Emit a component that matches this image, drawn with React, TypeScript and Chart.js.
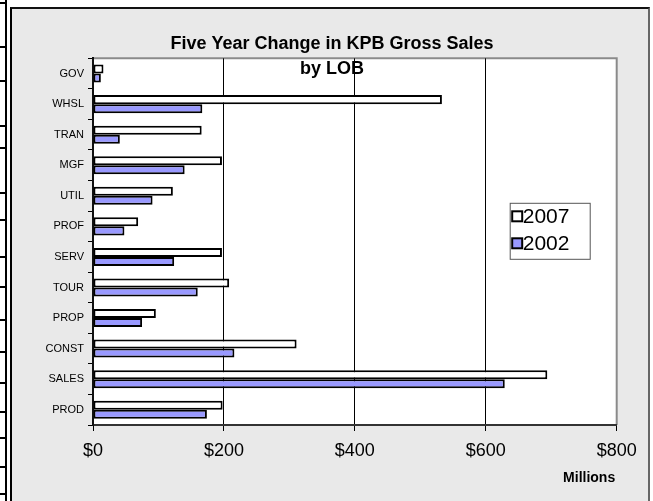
import React, { useEffect, useRef } from "react";
import { Chart, registerables } from "chart.js";

Chart.register(...registerables);

// ---- data ----
const categories = ["GOV", "WHSL", "TRAN", "MGF", "UTIL", "PROF", "SERV", "TOUR", "PROP", "CONST", "SALES", "PROD"];
const sales2007 = [16, 533, 166, 197, 122, 69, 197, 208, 96, 311, 694, 198];
const sales2002 = [12, 167, 41, 140, 91, 48, 124, 160, 75, 216, 629, 174];
const seriesLabels = ["2007", "2002"];
const seriesColors = ["#ffffff", "#9999ff"];
const xMin = 0;
const xMax = 800;
const xStep = 200;
const titleLines = ["Five Year Change in KPB Gross Sales", "by LOB"];
const xAxisTitle = "Millions";

// decorative table rules at the left edge of the screenshot
const tableRuleYs = [2, 46, 80, 125, 147, 192, 219, 256, 286, 319, 351, 382, 411, 437, 466, 493];

const FONT = '"Liberation Sans", Arial, Helvetica, sans-serif';

const decorPlugin = {
  id: "decor",
  beforeDraw(chart: any) {
    const { ctx, chartArea: a } = chart;
    ctx.save();
    ctx.fillStyle = "#ffffff";
    ctx.fillRect(a.left, a.top, a.right - a.left, a.bottom - a.top);
    ctx.strokeStyle = "#8a8a8a";
    ctx.lineWidth = 2;
    ctx.beginPath();
    ctx.moveTo(a.left, a.top);
    ctx.lineTo(a.right, a.top);
    ctx.lineTo(a.right, a.bottom);
    ctx.stroke();
    ctx.restore();
  },
  afterDraw(chart: any) {
    const { ctx, chartArea: a } = chart;
    ctx.save();
    // title
    ctx.fillStyle = "#000";
    ctx.textAlign = "center";
    ctx.textBaseline = "alphabetic";
    ctx.font = `bold 18px ${FONT}`;
    const cx = chart.width / 2 + 2;
    ctx.fillText(titleLines[0], cx, a.top - 9);
    ctx.fillText(titleLines[1], cx, a.top + 15.7);

    // x-axis title
    ctx.font = `bold 14px ${FONT}`;
    ctx.textAlign = "right";
    ctx.fillText(xAxisTitle, a.right - 1.5, a.bottom + 57.3);

    // legend
    const bx = a.right - 107;
    const by = a.top + 144.5;
    const bw = 81;
    const bh = 57;
    ctx.fillStyle = "#fff";
    ctx.fillRect(bx, by, bw, bh);
    ctx.strokeStyle = "#555";
    ctx.lineWidth = 1;
    ctx.strokeRect(bx + 0.5, by + 0.5, bw - 1, bh - 1);
    const ds = chart.data.datasets;
    ctx.font = `21px ${FONT}`;
    ctx.textAlign = "left";
    ctx.textBaseline = "middle";
    ds.forEach((d: any, i: number) => {
      const cy = by + 13.5 + i * 27;
      ctx.fillStyle = d.backgroundColor;
      ctx.fillRect(bx + 2.5, cy - 5, 10, 10);
      ctx.strokeStyle = "#000";
      ctx.lineWidth = 2;
      ctx.strokeRect(bx + 2.5, cy - 5, 10, 10);
      ctx.fillStyle = "#000";
      ctx.fillText(d.label, bx + 13, cy + 1);
    });
    ctx.restore();
  },
};

export default function App() {
  const ref = useRef<HTMLCanvasElement>(null);

  useEffect(() => {
    const canvas = ref.current;
    if (!canvas) return;
    const chart = new Chart(canvas, {
      type: "bar",
      data: {
        labels: categories,
        datasets: [
          {
            label: seriesLabels[0],
            data: sales2007,
            backgroundColor: seriesColors[0],
            borderColor: "#000",
            borderWidth: 2,
            borderSkipped: false,
            barPercentage: 1,
            categoryPercentage: 0.59,
          },
          {
            label: seriesLabels[1],
            data: sales2002,
            backgroundColor: seriesColors[1],
            borderColor: "#000",
            borderWidth: 2,
            borderSkipped: false,
            barPercentage: 1,
            categoryPercentage: 0.59,
          },
        ],
      },
      options: {
        indexAxis: "y",
        responsive: false,
        animation: false,
        layout: { padding: { top: 49.3, right: 31.3, left: 0, bottom: 0 } },
        plugins: {
          legend: { display: false },
          title: { display: false },
          tooltip: { enabled: false },
        },
        scales: {
          x: {
            type: "linear",
            min: xMin,
            max: xMax,
            afterFit: (s: any) => {
              s.height = 76;
            },
            ticks: {
              stepSize: xStep,
              autoSkip: false,
              maxRotation: 0,
              padding: 9,
              color: "#000",
              font: { family: FONT, size: 18 },
              callback: (v: any) => "$" + v,
            },
            grid: {
              color: (c: any) =>
                c.tick && (c.tick.value === xMin || c.tick.value === xMax) ? "rgba(0,0,0,0)" : "#000",
              lineWidth: 1,
              tickColor: "#000",
              tickLength: 6,
              tickWidth: 1,
            },
            border: { display: true, color: "#333", width: 2 },
          },
          y: {
            type: "category",
            offset: true,
            afterFit: (s: any) => {
              s.width = 81;
            },
            ticks: {
              autoSkip: false,
              padding: 4,
              color: "#000",
              font: { family: FONT, size: 11 },
            },
            grid: {
              offset: true,
              drawOnChartArea: false,
              drawTicks: true,
              tickLength: 5,
              tickColor: "#000",
              tickWidth: 1,
            },
            border: { display: true, color: "#111", width: 2 },
          },
        },
      },
      plugins: [decorPlugin],
    } as any);
    return () => chart.destroy();
  }, []);

  return (
    <div
      style={{
        position: "absolute",
        left: 0,
        top: 0,
        width: 653,
        height: 501,
        overflow: "hidden",
        background: "#fff",
      }}
    >
      <div style={{ position: "absolute", left: 5, top: 0, width: 2, height: 501, background: "#000" }} />
      {tableRuleYs.map((y) => (
        <div key={y} style={{ position: "absolute", left: 0, top: y, width: 7, height: 2, background: "#000" }} />
      ))}
      <div
        style={{
          position: "absolute",
          left: 10,
          top: 7,
          width: 636,
          height: 494,
          borderLeft: "2px solid #000",
          borderTop: "2px solid #111",
          borderRight: "2px solid #666",
          background: "#e9e9e9",
        }}
      >
        <canvas ref={ref} width={636} height={492} style={{ display: "block" }} />
      </div>
    </div>
  );
}
